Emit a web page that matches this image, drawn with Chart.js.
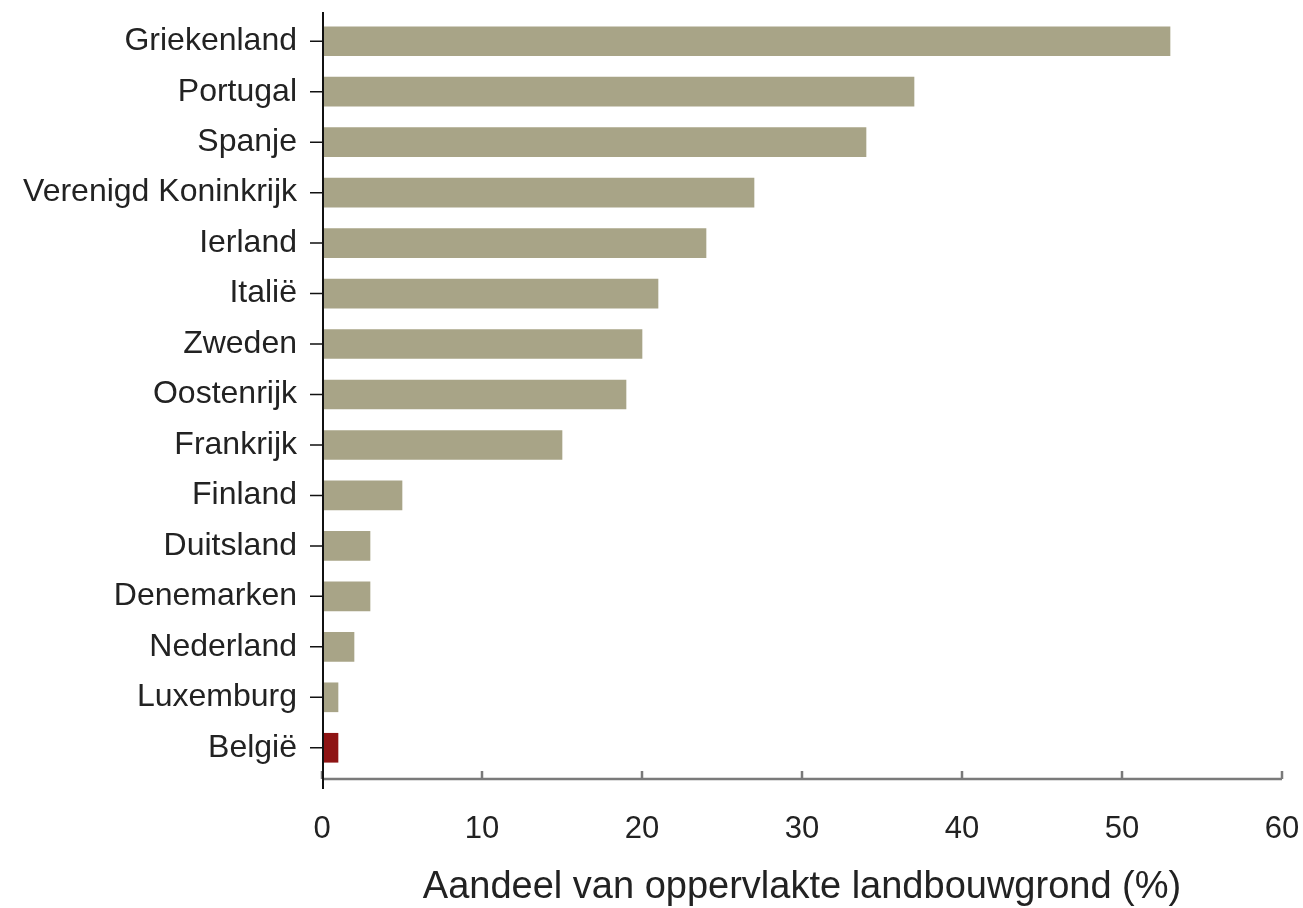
<!DOCTYPE html>
<html>
<head>
<meta charset="utf-8">
<script src="https://cdn.jsdelivr.net/npm/chart.js@4/dist/chart.umd.min.js"></script>
<style>
  html, body { margin: 0; padding: 0; background: #fff; }
  #wrap { width: 1303px; height: 908px; }
</style>
</head>
<body>
<div id="wrap"><canvas id="landChart"></canvas></div>
<script>
const countries = ['Griekenland', 'Portugal', 'Spanje', 'Verenigd Koninkrijk', 'Ierland', 'Italië',
  'Zweden', 'Oostenrijk', 'Frankrijk', 'Finland', 'Duitsland', 'Denemarken', 'Nederland',
  'Luxemburg', 'België'];
const shares = [53, 37, 34, 27, 24, 21, 20, 19, 15, 5, 3, 3, 2, 1, 1];
const xTicks = [0, 10, 20, 30, 40, 50, 60];
const axisTitle = 'Aandeel van oppervlakte landbouwgrond (%)';

const barColors = countries.map(c => c === 'België' ? '#8e1414' : '#a8a487');

// Excel-style axes: black y axis, grey x axis with ticks pointing inward
const axesPlugin = {
    id: 'excelAxes',
    afterDraw(chart) {
        const ctx = chart.ctx;
        const {left, right, top, bottom} = chart.chartArea;
        const xs = chart.scales.x, ys = chart.scales.y;
        const axisY = bottom + 6;
        ctx.save();
        // x axis
        ctx.strokeStyle = '#7a7a7a';
        ctx.lineWidth = 2.5;
        ctx.beginPath();
        ctx.moveTo(left, axisY);
        ctx.lineTo(right, axisY);
        xs.ticks.forEach(t => {
            const px = xs.getPixelForValue(t.value);
            ctx.moveTo(px, axisY);
            ctx.lineTo(px, axisY - 8);
        });
        ctx.stroke();
        // y axis
        ctx.strokeStyle = '#111';
        ctx.lineWidth = 2;
        ctx.beginPath();
        ctx.moveTo(left + 1, top - 4);
        ctx.lineTo(left + 1, axisY + 10);
        ctx.stroke();
        ctx.lineWidth = 1.5;
        ctx.beginPath();
        countries.forEach((c, i) => {
            const py = ys.getPixelForValue(i);
            ctx.moveTo(left - 12, py);
            ctx.lineTo(left, py);
        });
        ctx.stroke();
        ctx.restore();
    }
};

function noEdgePadding(scale) {
    scale.paddingTop = 0;
    scale.paddingBottom = 0;
    scale.paddingLeft = 0;
    scale.paddingRight = 0;
}

const ctx = document.getElementById('landChart').getContext('2d');
new Chart(ctx, {
    type: 'bar',
    data: {
        labels: countries,
        datasets: [{
            data: shares,
            backgroundColor: barColors,
            borderWidth: 0,
            barThickness: 29
        }]
    },
    options: {
        indexAxis: 'y',
        responsive: true,
        maintainAspectRatio: false,
        animation: false,
        layout: { padding: { top: 16, right: 21, left: 0, bottom: 0 } },
        plugins: {
            legend: { display: false },
            tooltip: { enabled: false }
        },
        scales: {
            x: {
                min: 0,
                max: 60,
                afterBuildTicks(scale) {
                    scale.ticks = xTicks.map(v => ({ value: v }));
                },
                afterFit(scale) {
                    scale.height = 135;
                    noEdgePadding(scale);
                },
                grid: { display: false, drawTicks: false },
                border: { display: false },
                ticks: {
                    padding: 38,
                    color: '#222',
                    font: { family: 'Liberation Sans, Arial', size: 31 }
                },
                title: {
                    display: true,
                    text: axisTitle,
                    color: '#222',
                    padding: { top: 0, bottom: -2 },
                    font: { family: 'Liberation Sans, Arial', size: 38 }
                }
            },
            y: {
                afterFit(scale) {
                    scale.width = 322;
                    noEdgePadding(scale);
                },
                grid: { display: false, drawTicks: false },
                border: { display: false },
                ticks: {
                    padding: 25,
                    color: '#222',
                    autoSkip: false,
                    font: { family: 'Liberation Sans, Arial', size: 32 }
                }
            }
        }
    },
    plugins: [axesPlugin]
});
</script>
</body>
</html>
